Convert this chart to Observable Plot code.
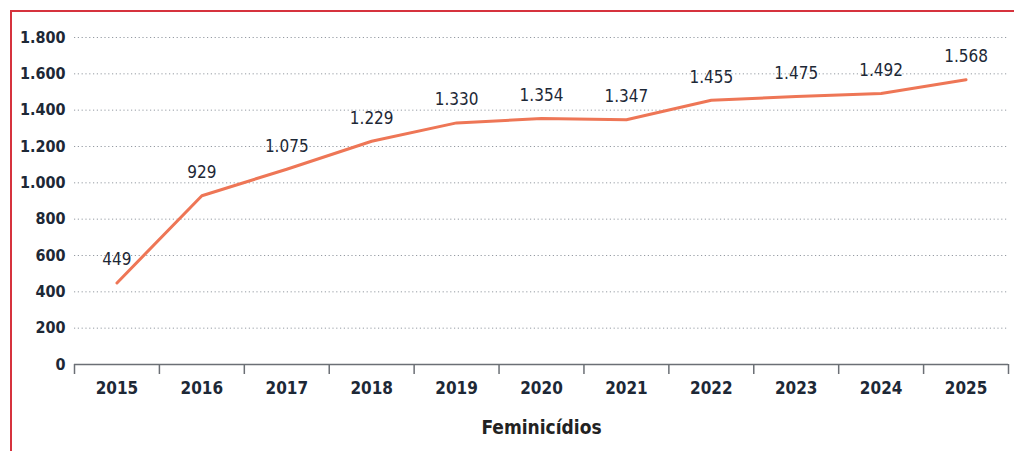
<!DOCTYPE html>
<html>
<head>
<meta charset="utf-8">
<script src="https://cdn.jsdelivr.net/npm/d3@7"></script>
<script src="https://cdn.jsdelivr.net/npm/@observablehq/plot@0.6"></script>
<style>
  html, body { margin: 0; padding: 0; background: #fff; }
  #wrap { position: relative; width: 1014px; height: 451px; overflow: hidden; }
  #frame { position: absolute; left: 10px; top: 10px; right: -10px; bottom: -10px;
           border-left: 2px solid #d6333d; border-top: 2px solid #d6333d; pointer-events: none; }
  svg { font-family: "Liberation Sans Narrow", "DejaVu Sans Condensed", "Roboto", sans-serif; }
</style>
</head>
<body>
<div id="wrap"><div id="frame"></div></div>
<script>
const years = [2015, 2016, 2017, 2018, 2019, 2020, 2021, 2022, 2023, 2024, 2025];
const values = [449, 929, 1075, 1229, 1330, 1354, 1347, 1455, 1475, 1492, 1568];
const yTicks = [0, 200, 400, 600, 800, 1000, 1200, 1400, 1600, 1800];
const xLabel = "Feminicídios";

const data = years.map((y, i) => ({year: y, value: values[i]}));
const boundaries = [years[0] - 0.5, ...years.map(y => y + 0.5)];
const fmt = d3.formatLocale({decimal: ",", thousands: ".", grouping: [3], currency: ["R$", ""]}).format(",d");
const ink = "#1d2836";

const chart = Plot.plot({
  width: 1014,
  height: 451,
  marginLeft: 74,
  marginRight: 6,
  marginTop: 37,
  marginBottom: 87,
  style: {background: "transparent", color: ink},
  x: {domain: [years[0] - 0.5, years[years.length - 1] + 0.5]},
  y: {domain: [0, 1800]},
  marks: [
    Plot.gridY(yTicks.filter(d => d > 0), {stroke: "#8a9099", strokeOpacity: 0.9, strokeDasharray: "1.2,2.6", strokeWidth: 1}),
    Plot.axisY(yTicks, {tickSize: 0, tickPadding: 9, tickFormat: fmt, fontSize: 16, fontWeight: "bold", label: null}),
    Plot.axisX(years, {tickSize: 0, tickPadding: 17, tickFormat: d => String(d), fontSize: 17, fontWeight: "bold", label: null}),
    Plot.axisX(boundaries, {tickSize: 10, tickFormat: () => "", stroke: "#6b6f75", strokeWidth: 1.5, label: null}),
    Plot.ruleY([0], {stroke: "#6b6f75", strokeWidth: 1.5}),
    Plot.line(data, {x: "year", y: "value", stroke: "#ee7656", strokeWidth: 3}),
    Plot.text(data, {x: "year", y: "value", text: d => fmt(d.value), dy: -23, fontSize: 17, fontWeight: 500, fill: ink}),
    Plot.text([xLabel], {frameAnchor: "bottom", dy: 69, fontSize: 19, fontWeight: "bold", fill: "#222"})
  ]
});
document.getElementById("wrap").prepend(chart);
</script>
</body>
</html>
